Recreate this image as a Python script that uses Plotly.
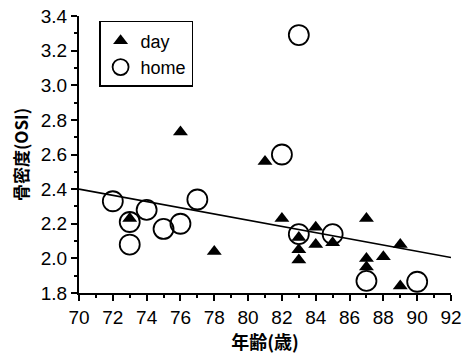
import plotly.graph_objects as go

# Data
day_age = [73, 76, 78, 81, 82, 83, 83, 83, 84, 84, 85, 87, 87, 87, 88, 89, 89]
day_bone = [2.23, 2.73, 2.04, 2.56, 2.23, 2.12, 2.05, 1.99, 2.18, 2.08, 2.09, 2.23, 2.00, 1.95, 2.01, 2.08, 1.84]

home_age = [72, 73, 73, 74, 75, 76, 77, 82, 83, 83, 85, 87, 90]
home_bone = [2.33, 2.21, 2.08, 2.28, 2.17, 2.20, 2.34, 2.60, 3.29, 2.14, 2.14, 1.87, 1.865]

fit_age = [70, 92]
fit_bone = [2.40, 2.005]

x_ticks = list(range(70, 93, 2))
y_ticks = [1.8, 2.0, 2.2, 2.4, 2.6, 2.8, 3.0, 3.2, 3.4]

FONT = "Liberation Sans"
CJK = "Noto Sans CJK JP"

fig = go.Figure()
fig.add_trace(go.Scatter(
    x=fit_age, y=fit_bone, mode="lines",
    line=dict(color="black", width=1.6), showlegend=False, hoverinfo="skip"))
fig.add_trace(go.Scatter(
    x=day_age, y=day_bone, mode="markers", name="day",
    marker=dict(symbol="triangle-up", size=13, color="black", line=dict(width=0))))
fig.add_trace(go.Scatter(
    x=home_age, y=home_bone, mode="markers", name="home",
    marker=dict(symbol="circle-open", size=20, color="black", line=dict(width=1.8, color="black"))))

axis_common = dict(
    showgrid=False, zeroline=False, showline=True, linecolor="black", linewidth=2,
    ticks="outside", ticklen=6, tickwidth=2, tickcolor="black",
    tickfont=dict(family=FONT, size=19, color="black"),
    mirror=False, automargin=False, ticklabeloverflow="allow",
)

fig.update_xaxes(
    range=[70, 92], tickvals=x_ticks, ticktext=[str(v) for v in x_ticks],
    minor=dict(dtick=1, ticks="outside", ticklen=3, tickwidth=1.5, tickcolor="black"),
    title=dict(text="<b>年齢(歳)</b>", font=dict(family=CJK, size=18, color="black"), standoff=8),
    **axis_common)
fig.update_yaxes(
    range=[1.8, 3.4], tickvals=y_ticks, ticktext=[f"{v:.1f}" for v in y_ticks],
    minor=dict(dtick=0.1, ticks="outside", ticklen=3, tickwidth=1.5, tickcolor="black"),
    title=dict(text="<b>骨密度(OSI)</b>", font=dict(family=CJK, size=17, color="black"), standoff=8),
    **axis_common)

fig.update_layout(
    width=463, height=361,
    margin=dict(l=79, r=12, t=16, b=68),
    plot_bgcolor="white", paper_bgcolor="white",
    legend=dict(
        x=0.054, y=0.982, xanchor="left", yanchor="top",
        bordercolor="black", borderwidth=1.5, bgcolor="white",
        font=dict(family=FONT, size=18, color="black"),
        itemsizing="trace", tracegroupgap=0, itemwidth=30,
    ),
)

fig.write_html("out.html", config={"displayModeBar": False},
               post_script="document.body.style.margin='0px';")
